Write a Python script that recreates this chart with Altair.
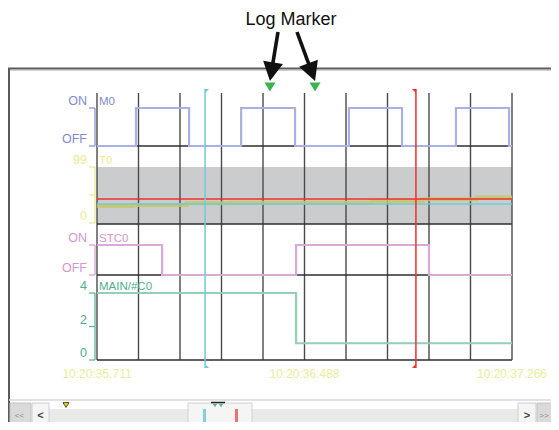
import math
import altair as alt
import pandas as pd

FONT = "Liberation Sans"

# ---------------- chart values ----------------
time_tick_labels = ["10:20:35.711", "10:20:36.488", "10:20:37.266"]
time_tick_ms = [0, 777.5, 1555]
grid_ms = [0, 155.5, 311, 466.5, 622, 777.5, 933, 1088.5, 1244, 1399.5, 1555]

row_names = ["M0", "T0", "STC0", "MAIN/#C0"]

m0_ms = [0, 146, 345, 540, 742, 944, 1143, 1345, 1544, 1555]
m0_val = [0, 1, 0, 1, 0, 1, 0, 1, 0, 0]

t0_ms = [0, 135, 337, 498, 1030, 1221, 1424, 1555]
t0_val = [30, 32, 35, 36, 39, 42, 45, 45]

stc0_ms = [0, 244, 746, 1244, 1555]
stc0_val = [1, 0, 1, 0, 0]

c0_ms = [0, 746, 1555]
c0_val = [4, 1, 1]

bit_tick_vals = [0, 1]
bit_label_vals = [1, 0]
bit_label_texts = ["ON", "OFF"]
t0_tick_vals = [0, 49.5, 99]
t0_label_vals = [99, 0]
t0_label_texts = ["99", "0"]
c0_tick_vals = [0, 2, 4]
c0_label_vals = [4, 2, 0]
c0_label_texts = ["4", "2", "0"]

cursor_names = ["start", "end"]
cursor_ms = [405, 1195]
cursor_t0_val = [33.6, 42.4]

log_marker_ms = [648, 817]
annotation_text = "Log Marker"

# ---------------- layout ----------------
X0, Y0 = 97, 93          # page position of the plot origin
W, H = 415, 267
SVG_W, SVG_H = 543, 414
PAD = {"left": X0 - 8, "top": Y0 - 8, "right": SVG_W - (X0 - 8) - W, "bottom": SVG_H - (Y0 - 8) - H}


def px(x):
    return x - X0


def py(y):
    return y - Y0


def domain_for(v_lo, y_lo, v_hi, y_hi):
    unit = (y_lo - y_hi) / (v_hi - v_lo)
    return [v_lo - (Y0 + H - y_lo) / unit, v_hi + (y_hi - Y0) / unit]


XS = alt.Scale(domain=[0, 1555], nice=False, zero=False)


def XT(field="t"):
    return alt.X(f"{field}:Q", scale=XS, axis=None)


cursor_color = alt.Color("c:N", scale=alt.Scale(domain=cursor_names, range=["#6fcbd8", "#ee3030"]), legend=None)
one = pd.DataFrame({"k": [0]})


def build_row(name, ms, vals, dom, tick_vals, label_vals, label_texts,
              mark_color, text_color, line_color, line_width=2.2, line_opacity=1.0, extra=None):
    ys = alt.Scale(domain=dom, nice=False, zero=False)
    Y = lambda f="v": alt.Y(f"{f}:Q", scale=ys, axis=None)
    sig = pd.DataFrame({"t": ms, "v": vals})
    line = alt.Chart(sig).mark_line(interpolate="step-after", color=line_color,
                                    strokeWidth=line_width, opacity=line_opacity).encode(x=XT(), y=Y())
    tk = pd.DataFrame({"v": tick_vals})
    ticks = alt.Chart(tk).mark_rule(color=mark_color, strokeWidth=1.3).encode(
        x=alt.value(-8), x2=alt.value(-2), y=Y())
    br = pd.DataFrame({"v": [min(tick_vals)], "v2": [max(tick_vals)]})
    bracket = alt.Chart(br).mark_rule(color=mark_color, strokeWidth=1.3).encode(
        x=alt.value(-2), y=Y(), y2="v2:Q")
    lb = pd.DataFrame({"v": label_vals, "lab": label_texts})
    labels = alt.Chart(lb).mark_text(align="right", baseline="alphabetic", dy=-3, fontSize=12.5,
                                     font=FONT, color=text_color).encode(
        x=alt.value(-10), y=Y(), text="lab:N")
    nm = pd.DataFrame({"v": [max(tick_vals)], "lab": [name]})
    title = alt.Chart(nm).mark_text(align="left", baseline="alphabetic", dy=-3, fontSize=11.5,
                                    font=FONT, color=text_color).encode(
        x=alt.value(2), y=Y(), text="lab:N")
    layers = [bracket, ticks, labels, title, line]
    if extra:
        layers += extra(ys)
    return alt.layer(*layers)


def t0_extra(ys):
    df = pd.DataFrame({"c": cursor_names, "v": cursor_t0_val})
    return [alt.Chart(df).mark_rule(strokeWidth=1.3).encode(
        x=alt.value(0), x2=alt.value(W), y=alt.Y("v:Q", scale=ys, axis=None), color=cursor_color)]


# ---- chrome helpers (pixel placed) ----
def box(x1, y1, x2, y2, fill, stroke=None, sw=1):
    kw = dict(fill=fill)
    if stroke:
        kw.update(stroke=stroke, strokeWidth=sw)
    return alt.Chart(one).mark_rect(**kw).encode(
        x=alt.value(px(x1)), x2=alt.value(px(x2)), y=alt.value(py(y1)), y2=alt.value(py(y2)))


def hline(x1, x2, y, color, w=1):
    return alt.Chart(one).mark_rule(color=color, strokeWidth=w).encode(
        x=alt.value(px(x1)), x2=alt.value(px(x2)), y=alt.value(py(y)))


def vline(x, y1, y2, color, w=1):
    return alt.Chart(one).mark_rule(color=color, strokeWidth=w).encode(
        x=alt.value(px(x)), y=alt.value(py(y1)), y2=alt.value(py(y2)))


def label(x, y, s, size, color, align="center", weight="normal"):
    return alt.Chart(one).mark_text(align=align, baseline="alphabetic", fontSize=size, font=FONT,
                                    color=color, fontWeight=weight).encode(
        x=alt.value(px(x)), y=alt.value(py(y)), text=alt.value(s))


def tri(x, y, size, fill, stroke=None):
    kw = dict(shape="M-1,-0.8L1,-0.8L0,0.8Z", filled=True, fill=fill, size=size, opacity=1)
    if stroke:
        kw.update(stroke=stroke, strokeWidth=0.8)
    return alt.Chart(one).mark_point(**kw).encode(x=alt.value(px(x)), y=alt.value(py(y)))


layers = []

# frame
layers += [
    hline(8, 560, 68.5, "#5a5a5a", 2),
    hline(8, 560, 70.5, "#d0d0d0", 1),
    vline(9, 68, 431, "#5a5a5a", 2),
    hline(9, 560, 400, "#d8d8d8", 1.5),
]

# T0 grey band (uses the T0 scale)
t0_dom = domain_for(0, 223, 99, 167)
band = alt.Chart(pd.DataFrame({"v": [99]})).mark_rect(color="#cbcccd").encode(
    x=alt.value(0), x2=alt.value(W),
    y=alt.Y("v:Q", scale=alt.Scale(domain=t0_dom, nice=False, zero=False), axis=None),
    y2=alt.value(py(224)))
layers.append(band)

# vertical grid
grid = alt.Chart(pd.DataFrame({"t": grid_ms})).mark_rule(color="#4a4a4a", strokeWidth=1.4).encode(
    x=XT(), y=alt.value(0), y2=alt.value(H))
layers.append(grid)

# row separators
for yy in [146, 224, 275, 360]:
    layers.append(alt.Chart(one).mark_rule(color="#2e2e2e", strokeWidth=1.4).encode(
        x=alt.value(0), x2=alt.value(W), y=alt.value(py(yy))))

# rows
layers.append(build_row(row_names[0], m0_ms, m0_val, domain_for(0, 146, 1, 108),
                        bit_tick_vals, bit_label_vals, bit_label_texts,
                        "#8593d6", "#7f8bd0", "#a9b1e3"))
layers.append(build_row(row_names[1], t0_ms, t0_val, t0_dom,
                        t0_tick_vals, t0_label_vals, t0_label_texts,
                        "#eaea98", "#ecec94", "#c9c464", line_width=4.0, line_opacity=0.85,
                        extra=t0_extra))
layers.append(build_row(row_names[2], stc0_ms, stc0_val, domain_for(0, 275, 1, 245),
                        bit_tick_vals, bit_label_vals, bit_label_texts,
                        "#d8a0d6", "#d596d0", "#d8aad8"))
layers.append(build_row(row_names[3], c0_ms, c0_val, domain_for(0, 360, 4, 293),
                        c0_tick_vals, c0_label_vals, c0_label_texts,
                        "#5cb894", "#4fae8e", "#94d0b6"))

# time labels
tl = pd.DataFrame({"t": time_tick_ms, "lab": time_tick_labels})
layers.append(alt.Chart(tl).mark_text(baseline="alphabetic", fontSize=12, font=FONT, color="#ecec9c").encode(
    x=XT(), y=alt.value(py(378)), text="lab:N"))

# cursors
cur = pd.DataFrame({"t": cursor_ms, "c": cursor_names})
layers.append(alt.Chart(cur).mark_rule(strokeWidth=1.5).encode(
    x=XT(), y=alt.value(py(89)), y2=alt.value(py(368)), color=cursor_color))
flag_shapes = {
    "start": ("M0,0L1,0L0,1Z", "M0,0L0,-1L1,0Z"),
    "end": ("M0,0L-1,0L0,1Z", "M0,0L0,-1L-1,0Z"),
}
for name, t in zip(cursor_names, cursor_ms):
    d = pd.DataFrame({"t": [t], "c": [name]})
    top_s, bot_s = flag_shapes[name]
    layers.append(alt.Chart(d).mark_point(shape=top_s, filled=True, size=64, opacity=1).encode(
        x=XT(), y=alt.value(py(89)), color=cursor_color))
    layers.append(alt.Chart(d).mark_point(shape=bot_s, filled=True, size=64, opacity=1).encode(
        x=XT(), y=alt.value(py(368)), color=cursor_color))

# log markers
lm = pd.DataFrame({"t": log_marker_ms})
layers.append(alt.Chart(lm).mark_point(shape="M-1,-0.8L1,-0.8L0,0.8Z", filled=True, size=121,
                                       color="#3bb34e", opacity=1).encode(
    x=XT(), y=alt.value(py(87))))

# annotation
layers.append(label(291, 25, annotation_text, 18, "#111111"))
arrow_tails = [(278, 32), (297, 32)]
TIP_Y = 81
for t, (tx, ty) in zip(log_marker_ms, arrow_tails):
    tip_x = X0 + t / 1555 * W
    dx, dy = tip_x - tx, TIP_Y - ty
    ln = math.hypot(dx, dy)
    ang = math.degrees(math.atan2(-dx, dy)) % 360
    back = 9
    d = pd.DataFrame({"t": [t]})
    layers.append(alt.Chart(d).mark_rule(color="#111111", strokeWidth=3.6,
                                         xOffset=-back * dx / ln).encode(
        x=XT(), y=alt.value(py(TIP_Y) - back * dy / ln),
        x2=alt.value(px(tx)), y2=alt.value(py(ty))))
    layers.append(alt.Chart(d).mark_point(shape="M-1,-1.9L1,-1.9L0,0Z", filled=True, size=400,
                                          color="#111111", opacity=1, angle=ang).encode(
        x=XT(), y=alt.value(py(TIP_Y))))

# scrollbar
layers += [
    box(49, 409, 518, 424, "#e9e9e9"),
    box(10, 403, 31, 432, "#dadada", "#c4c4c4"),
    box(32, 403, 49, 432, "#f5f5f5", "#cfcfcf"),
    box(518, 403, 536, 432, "#f5f5f5", "#cfcfcf"),
    box(537, 403, 561, 432, "#dadada", "#c4c4c4"),
    label(19.5, 418, "<<", 8, "#8a8a8a"),
    label(40.5, 419, "<", 11, "#444444", weight="bold"),
    label(527, 419, ">", 11, "#444444", weight="bold"),
    label(544, 418, ">>", 8, "#8a8a8a"),
    box(188, 403, 252, 432, "#f5f5f5", "#d2d2d2"),
    box(203, 409, 206, 423, "#80d2dc"),
    box(235, 409, 238, 423, "#ee7474"),
    hline(211, 225, 402.5, "#222222", 1.5),
    tri(215, 405.5, 20, "#5fb58a"),
    tri(221, 405.5, 20, "#5fb58a"),
    tri(66, 405, 36, "#e6de10", "#222222"),
]

chart = alt.layer(*layers).resolve_scale(y="independent").properties(
    width=W, height=H, padding=PAD, autosize=alt.AutoSizeParams(type="none"),
    background="white",
).configure_view(stroke=None)

chart.save("out.html", embed_options={"renderer": "svg", "actions": False})
